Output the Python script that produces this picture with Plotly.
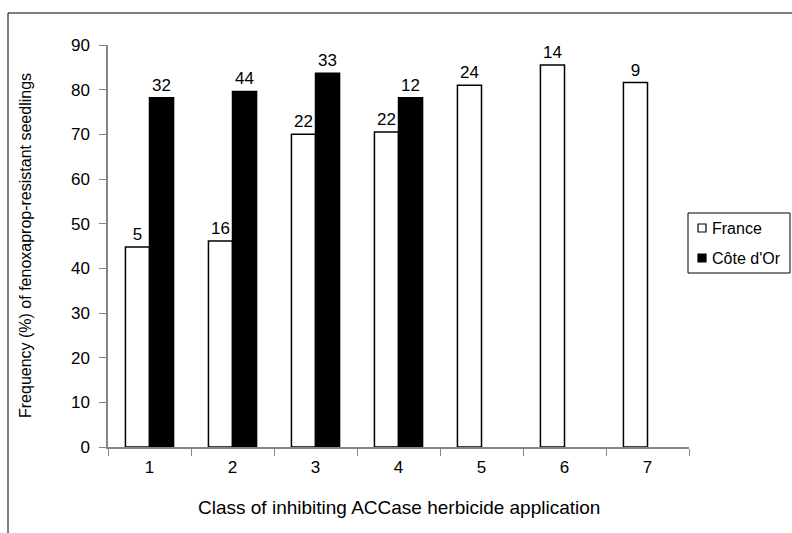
import plotly.graph_objects as go

categories = ["1", "2", "3", "4", "5", "6", "7"]
france_values = [44.8, 46.1, 70.0, 70.5, 81.0, 85.5, 81.6]
france_labels = ["5", "16", "22", "22", "24", "14", "9"]
cote_values = [78.2, 79.6, 83.7, 78.2, None, None, None]
cote_labels = ["32", "44", "33", "12", "", "", ""]
series_names = ["France", "Côte d'Or"]

FONT = "Liberation Sans, Arial, sans-serif"
W, H = 792, 533
L, R, T, B = 108, 103, 45, 86
pw, ph = W - L - R, H - T - B

fig = go.Figure()
fig.add_trace(go.Bar(
    x=categories, y=france_values, name=series_names[0], showlegend=False,
    marker=dict(color="white", line=dict(color="black", width=1.5)),
    text=france_labels, textposition="outside", cliponaxis=False,
    textfont=dict(family=FONT, size=17, color="black"),
))
fig.add_trace(go.Bar(
    x=categories, y=cote_values, name=series_names[1], showlegend=False,
    marker=dict(color="black", line=dict(color="black", width=1.5)),
    text=cote_labels, textposition="outside", cliponaxis=False,
    textfont=dict(family=FONT, size=17, color="black"),
))

def px_x(x):
    return (x - L) / pw

def px_y(y):
    return (H - B - y) / ph

# outer frame (partially visible)
fig.add_shape(type="line", xref="paper", yref="paper",
              x0=px_x(8), x1=px_x(8), y0=px_y(13), y1=px_y(545),
              line=dict(color="black", width=1))
fig.add_shape(type="line", xref="paper", yref="paper",
              x0=px_x(8), x1=px_x(800), y0=px_y(13), y1=px_y(13),
              line=dict(color="black", width=1))

# legend box
fig.add_shape(type="rect", xref="paper", yref="paper",
              x0=px_x(688), x1=px_x(790), y0=px_y(273), y1=px_y(213),
              line=dict(color="black", width=1), fillcolor="white")
legend_rows = [(series_names[0], "white", 228), (series_names[1], "black", 258)]
for name, fill, yc in legend_rows:
    fig.add_shape(type="rect", xref="paper", yref="paper",
                  x0=px_x(698), x1=px_x(706), y0=px_y(yc + 4), y1=px_y(yc - 4),
                  line=dict(color="black", width=1.2), fillcolor=fill)
    fig.add_annotation(text=name, xref="paper", yref="paper",
                       x=px_x(710), y=px_y(yc), xanchor="left", yanchor="middle",
                       showarrow=False,
                       font=dict(family=FONT, size=16, color="black"))

fig.add_annotation(text="Class of inhibiting ACCase herbicide application",
                   xref="paper", yref="paper", x=0.5, y=px_y(507),
                   xanchor="center", yanchor="middle", showarrow=False,
                   font=dict(family=FONT, size=19, color="black"))
fig.add_annotation(text="Frequency (%) of fenoxaprop-resistant seedlings",
                   xref="paper", yref="paper", x=px_x(25), y=0.5, textangle=-90,
                   xanchor="center", yanchor="middle", showarrow=False,
                   font=dict(family=FONT, size=16, color="black"))

fig.update_layout(
    width=W, height=H,
    margin=dict(l=L, r=R, t=T, b=B, autoexpand=False),
    paper_bgcolor="white", plot_bgcolor="white",
    barmode="group", bargap=0.42, bargroupgap=0,
    font=dict(family=FONT, size=17, color="black"),
    showlegend=False,
    xaxis=dict(
        type="category", showline=True, linecolor="#868686", linewidth=1.5,
        ticks="outside", tickson="boundaries", ticklen=7, tickcolor="#868686",
        showgrid=False, tickfont=dict(size=17), automargin=False,
        ticklabelstandoff=4,
    ),
    yaxis=dict(
        range=[0, 90], dtick=10, showline=True, linecolor="#868686", linewidth=1.5,
        ticks="outside", ticklen=7, tickcolor="#868686", showgrid=False,
        zeroline=False, tickfont=dict(size=17), automargin=False,
        ticklabelstandoff=6,
    ),
)

fig.write_html(
    "out.html",
    config={"displayModeBar": False},
    post_script="document.body.style.margin='0';document.body.style.overflow='hidden';",
)
